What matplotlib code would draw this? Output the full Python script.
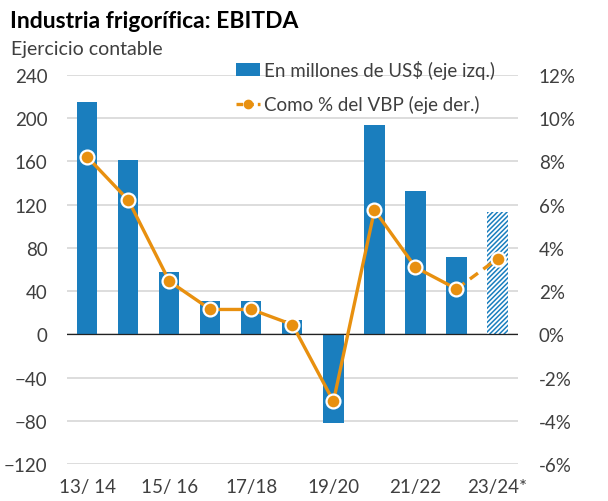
import matplotlib.pyplot as plt
from matplotlib.lines import Line2D
from matplotlib.patches import Patch

plt.rcParams['font.family'] = ['Lato', 'DejaVu Sans']
plt.rcParams['hatch.linewidth'] = 1.1

# data
campaigns = ['13/14', '14/15', '15/16', '16/17', '17/18', '18/19',
             '19/20', '20/21', '21/22', '22/23', '23/24*']
ebitda_musd = [215, 161, 58, 31, 31, 13, -82, 194, 133, 72, 113]
ebitda_pct_vbp = [8.2, 6.2, 2.45, 1.15, 1.15, 0.45, -3.1, 5.75, 3.1, 2.1, 3.5]
xtick_labels = ['13/ 14', '15/ 16', '17/18', '19/20', '21/22', '23/24*']
left_ticks = [-120, -80, -40, 0, 40, 80, 120, 160, 200, 240]
right_ticks = [-6, -4, -2, 0, 2, 4, 6, 8, 10, 12]

blue = '#1A7EBE'
orange = '#E8900F'
txt = '#3F3F3F'

fig = plt.figure(figsize=(6.08, 5.02), dpi=100)
ax = fig.add_axes([0.110, 0.0737, 0.742, 0.775])
x = list(range(len(campaigns)))

# solid bars + hatched estimate for the last one
ax.bar(x[:-1], ebitda_musd[:-1], width=0.49, color=blue, zorder=2)
ax.bar(x[-1], ebitda_musd[-1], width=0.49, facecolor='white', edgecolor=blue,
       hatch='///////', linewidth=0, zorder=2)

ax.set_xlim(-0.5, len(campaigns) - 0.5)
ax.set_ylim(-120, 240)
ax.set_yticks(left_ticks)
ax.set_xticks(x[::2])
ax.set_xticklabels(xtick_labels)
ax.grid(axis='y', color='#D3D3D3', linewidth=1.1, zorder=0)
ax.axhline(0, color='#222222', linewidth=0.9, zorder=3)
for s in ax.spines.values():
    s.set_visible(False)
ax.tick_params(axis='both', length=0, labelsize=13.5, colors=txt)
ax.tick_params(axis='y', pad=14)
ax.tick_params(axis='x', pad=10)

ax2 = ax.twinx()
ax2.set_ylim(-6, 12)
ax2.set_yticks(right_ticks)
ax2.set_yticklabels([f'{t}%' for t in right_ticks])
for s in ax2.spines.values():
    s.set_visible(False)
ax2.tick_params(axis='y', length=0, labelsize=13.5, colors=txt, pad=15)

# solid line up to 22/23, dashed to the estimate
ax2.plot(x[:-1], ebitda_pct_vbp[:-1], color=orange, linewidth=2.4, zorder=4)
ax2.plot(x[-2:], ebitda_pct_vbp[-2:], color=orange, linewidth=2.4,
         linestyle=(0, (3, 2)), zorder=4)
ax2.plot(x, ebitda_pct_vbp, linestyle='none', marker='o', markersize=10,
         markerfacecolor=orange, markeredgecolor='white', markeredgewidth=1.6,
         zorder=5)

fig.text(0.016, 0.958, 'Industria frigorífica: EBITDA', fontsize=16.5,
         fontweight='bold', color='black', va='center')
fig.text(0.018, 0.902, 'Ejercicio contable', fontsize=14, color=txt, va='center')

handles = [Patch(facecolor=blue),
           Line2D([0], [0], color=orange, linewidth=2.4, linestyle=(0, (2, 1.2)),
                  marker='o', markersize=6, markerfacecolor=orange,
                  markeredgecolor=orange)]
fig.legend(handles, ['En millones de US$ (eje izq.)', 'Como % del VBP (eje der.)'],
           loc='upper left', bbox_to_anchor=(0.372, 0.897), frameon=False,
           fontsize=13.5, labelcolor=txt, handlelength=1.3, handletextpad=0.2,
           labelspacing=0.85, borderpad=0)

fig.savefig('out.png', dpi=100)
